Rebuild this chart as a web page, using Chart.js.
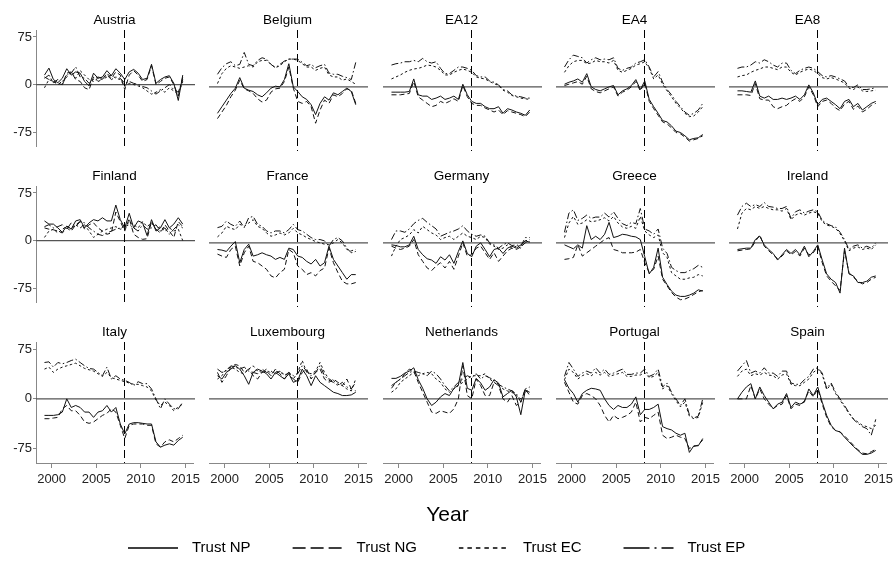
<!DOCTYPE html>
<html>
<head>
<meta charset="utf-8">
<title>Trust in national and European institutions</title>
<script src="https://cdn.jsdelivr.net/npm/chart.js"></script>
<style>
  html, body { margin: 0; padding: 0; background: #ffffff; }
  #fig { position: relative; width: 895px; height: 570px; overflow: hidden; background: #ffffff; }
  #fig canvas { position: absolute; }
</style>
</head>
<body>
<div id="fig"></div>
<script>
// ---------------- data ----------------
const YEARS = [1999.2,1999.7,2000.2,2000.7,2001.2,2001.7,2002.2,2002.7,2003.2,2003.7,
               2004.2,2004.7,2005.2,2005.7,2006.2,2006.7,2007.2,2007.7,2008.2,2008.7,
               2009.2,2009.7,2010.2,2010.7,2011.2,2011.7,2012.2,2012.7,2013.2,2013.7,
               2014.2,2014.7];
const SERIES_LABELS = ['Trust NP', 'Trust NG', 'Trust EC', 'Trust EP'];
const PANEL_NAMES = ['Austria','Belgium','EA12','EA4','EA8',
                     'Finland','France','Germany','Greece','Ireland',
                     'Italy','Luxembourg','Netherlands','Portugal','Spain'];
const X_TICKS = [2000, 2005, 2010, 2015];
const Y_TICKS = [-75, 0, 75];
const X_MIN = 1998.25, X_MAX = 2015.85;
const Y_MIN = -97, Y_MAX = 86;
const CRISIS_YEAR = 2008.17;

const AUSTRIA_NP = [15,26,8,3,10,25,15,20,18,5,-2,18,10,12,22,14,25,18,8,20,24,18,8,10,32,2,8,12,14,2,-25,15];
const AUSTRIA_NG = [12,8,5,2,0,18,20,8,5,-5,-8,12,5,8,18,10,20,15,-8,15,22,15,5,8,30,0,5,10,12,0,-18,12];
const AUSTRIA_EC = [-5,8,5,0,5,12,20,10,22,15,8,5,10,8,12,15,10,8,-3,2,0,-2,-5,-10,-15,-12,-8,-12,-5,-10,-15,5];
const AUSTRIA_EP = [10,15,3,8,0,15,18,28,12,10,2,8,12,10,15,8,12,10,2,5,2,0,-3,-5,-10,-15,-10,-5,0,-8,-12,8];

const BELGIUM_NP = [-40,-30,-20,-10,-2,14,-2,-5,-7,-12,-15,-9,-2,1,0,11,35,0,-7,-15,-19,-27,-42,-25,-15,-20,-9,-12,-7,-2,-7,-27];
const BELGIUM_NG = [-48,-38,-28,-15,-5,10,-3,-6,-10,-18,-23,-20,-8,-3,-2,8,30,-2,-22,-25,-22,-30,-55,-35,-20,-25,-12,-15,-10,-3,-5,-25];
const BELGIUM_EC = [5,20,28,32,30,28,30,32,30,38,40,40,34,29,32,38,42,42,40,35,30,30,25,28,30,18,15,15,10,12,8,4];
const BELGIUM_EP = [19,29,35,38,32,34,52,34,32,40,44,42,34,29,34,39,42,42,42,37,32,34,29,32,34,21,19,19,16,14,11,37];

const EA12_NP = [-8,-8,-8,-8,-7,12,-12,-14,-14,-19,-17,-14,-19,-17,-14,-19,4,-12,-22,-25,-25,-30,-33,-33,-30,-40,-33,-35,-38,-40,-43,-35];
const EA12_NG = [-12,-12,-12,-11,-10,8,-15,-20,-25,-30,-28,-22,-25,-22,-18,-22,2,-15,-25,-28,-28,-32,-35,-38,-35,-42,-36,-38,-40,-42,-45,-38];
const EA12_EC = [12,15,18,22,25,27,28,30,33,32,30,25,18,18,22,25,27,25,22,15,13,12,8,5,2,-5,-8,-13,-15,-17,-18,-19];
const EA12_EP = [33,35,36,38,38,40,38,43,38,36,38,28,20,20,25,30,30,28,25,17,15,15,9,7,3,-4,-6,-12,-14,-15,-17,-17];

const EA4_NP = [4,7,9,12,7,20,0,-4,-6,-3,0,2,-12,-6,-3,2,11,-4,9,-19,-30,-40,-51,-53,-59,-67,-69,-74,-80,-78,-77,-72];
const EA4_NG = [2,4,6,8,4,16,-3,-7,-9,-6,-3,0,-14,-8,-5,0,8,-6,6,-22,-33,-43,-53,-56,-62,-69,-71,-76,-82,-80,-78,-74];
const EA4_EC = [22,32,38,40,40,35,36,40,38,38,36,40,25,22,25,28,33,35,38,28,12,18,4,-6,-15,-25,-32,-40,-45,-44,-38,-30];
const EA4_EP = [30,41,48,46,44,36,41,44,41,42,41,44,28,25,28,30,36,38,41,30,15,23,7,-4,-12,-22,-30,-38,-43,-40,-35,-25];

const EA8_NP = [-6,-6,-7,-8,9,-14,-17,-14,-19,-19,-17,-19,-17,-14,-19,-12,3,-9,-27,-19,-17,-22,-27,-33,-22,-19,-30,-25,-35,-30,-25,-22];
const EA8_NG = [-12,-12,-12,-13,5,-18,-20,-20,-30,-33,-30,-28,-22,-18,-22,-15,0,-12,-30,-22,-20,-25,-32,-36,-26,-22,-34,-29,-38,-34,-28,-25];
const EA8_EC = [15,17,18,22,25,27,30,30,28,26,30,30,22,18,22,25,27,25,20,14,12,14,12,9,6,-2,-4,0,-6,-7,-6,-5];
const EA8_EP = [28,30,30,33,38,36,41,38,33,30,36,36,25,20,25,28,30,28,23,17,15,17,15,12,9,0,-1,3,-4,-4,-3,-1];

const FINLAND_NP = [31,26,26,20,13,23,18,31,33,20,28,33,31,36,31,31,56,33,20,43,20,31,28,8,33,15,20,33,20,26,36,26];
const FINLAND_NG = [20,18,17,15,12,20,15,25,30,18,25,28,20,15,10,12,45,30,15,35,10,5,2,3,30,18,12,25,15,5,30,22];
const FINLAND_EC = [5,15,18,12,18,22,20,25,20,25,15,5,10,15,18,20,22,18,20,30,25,20,30,22,28,18,22,15,20,15,18,0];
const FINLAND_EP = [22,25,20,22,25,18,28,22,30,28,20,15,10,8,12,15,18,20,22,25,20,15,25,18,20,25,15,20,10,18,25,20];

const FRANCE_NP = [-10,-11,-13,-5,2,-30,-10,-2,-20,-18,-15,-18,-20,-25,-22,-25,-8,-10,-20,-22,-28,-32,-25,-35,-30,-5,-25,-35,-45,-55,-48,-48];
const FRANCE_NG = [-17,-20,-22,-10,-5,-35,-15,-5,-28,-30,-35,-40,-50,-53,-45,-40,-10,-15,-35,-40,-48,-45,-50,-42,-38,-8,-30,-45,-58,-62,-62,-60];
const FRANCE_EC = [9,15,25,22,20,28,25,30,35,25,22,15,10,12,15,12,15,22,15,12,8,5,2,0,-2,-3,0,5,0,-10,-12,-10];
const FRANCE_EP = [23,25,33,28,25,33,23,38,40,28,25,18,15,18,18,15,20,28,20,18,13,8,5,5,3,-5,5,8,3,-8,-15,-13];

const GERMANY_NP = [-3,-4,-6,-6,-3,10,-10,-18,-24,-26,-31,-21,-26,-18,-31,-13,3,-16,-21,-5,0,-10,-21,-10,-8,-16,-8,-5,-8,-3,3,1];
const GERMANY_NG = [-5,-8,-10,-8,-5,5,-18,-28,-38,-42,-35,-30,-38,-28,-40,-20,0,-20,-18,-8,-5,-15,-25,-15,-28,-20,-12,-8,-10,-6,0,2];
const GERMANY_EC = [-20,-5,5,8,12,20,15,25,20,15,12,5,8,10,5,10,15,10,8,5,10,8,-2,-5,-10,-8,-3,-8,-5,-8,3,5];
const GERMANY_EP = [5,18,18,16,21,29,34,37,31,26,21,10,13,16,18,21,26,18,13,10,12,10,0,-3,-8,-3,0,-4,-3,-5,8,8];

const GREECE_NP = [-3,-6,-9,-3,-8,26,5,10,5,13,31,8,10,13,12,10,9,5,-21,-47,-37,-8,-52,-63,-73,-79,-81,-81,-79,-76,-71,-73];
const GREECE_NG = [-25,-24,-22,-3,-20,-15,-10,-5,0,5,8,-10,-12,-15,-15,-15,-14,-10,-30,-45,-40,-20,-55,-65,-75,-82,-86,-85,-82,-78,-74,-72];
const GREECE_EC = [8,30,40,28,30,35,32,33,35,38,33,40,30,24,22,25,22,40,18,12,8,12,-15,-22,-45,-50,-55,-55,-53,-52,-48,-50];
const GREECE_EP = [16,45,50,34,37,42,37,39,39,45,39,47,37,29,26,31,29,52,21,18,13,21,-8,-16,-37,-42,-45,-45,-42,-39,-34,-37];

const IRELAND_NP = [-10,-9,-8,-8,5,10,-3,-10,-16,-26,-18,-10,-16,-10,-18,-5,-21,-13,-3,-26,-47,-55,-60,-76,-8,-47,-50,-60,-60,-58,-52,-50];
const IRELAND_NG = [-12,-11,-10,-9,2,12,-5,-12,-18,-24,-20,-12,-18,-13,-20,-8,-18,-15,-5,-30,-50,-58,-65,-72,-12,-45,-52,-58,-62,-60,-55,-52];
const IRELAND_EC = [21,45,52,50,55,52,55,52,50,50,48,52,35,42,45,42,45,47,45,32,27,25,22,14,3,-12,-8,-6,-10,-8,-10,-3];
const IRELAND_EP = [42,55,60,55,58,55,61,55,54,52,52,55,37,47,50,45,48,50,47,34,29,26,24,16,5,-10,-5,-3,-8,-5,-8,0];

const ITALY_NP = [-25,-25,-25,-24,-20,0,-13,-10,-13,-20,-20,-28,-20,-18,-10,-20,-13,-38,-53,-38,-36,-36,-37,-38,-38,-65,-73,-70,-68,-70,-63,-58];
const ITALY_NG = [-30,-30,-29,-28,-15,-10,-18,-18,-25,-35,-37,-35,-30,-25,-22,-15,-20,-40,-60,-40,-38,-38,-38,-40,-40,-68,-73,-65,-62,-65,-60,-55];
const ITALY_EC = [45,48,40,45,48,50,52,54,50,46,44,42,38,34,40,32,30,28,26,24,22,22,20,18,12,-2,-10,-5,-10,-18,-12,-8];
const ITALY_EP = [55,56,48,55,53,55,58,60,55,50,46,45,40,35,48,30,35,30,28,25,20,26,23,23,15,0,-15,0,-8,-15,-15,-5];

const LUXEMBOURG_NP = [35,30,40,45,50,45,35,22,40,45,42,38,30,40,35,30,38,25,28,45,35,20,35,25,20,15,10,8,5,5,6,10];
const LUXEMBOURG_NG = [40,25,35,48,52,50,40,45,35,30,40,42,35,45,38,30,40,30,25,40,45,30,40,45,30,25,30,25,20,30,15,12];
const LUXEMBOURG_EC = [30,35,45,48,45,40,38,45,50,42,40,45,38,42,40,38,35,30,40,58,40,38,42,55,40,30,28,22,20,15,12,30];
const LUXEMBOURG_EP = [45,40,42,50,48,45,48,42,40,38,45,40,42,38,42,35,40,35,38,50,42,35,40,50,35,28,25,20,25,18,15,25];

const NETHERLANDS_NP = [31,31,34,39,42,47,29,16,0,-10,-5,3,8,5,16,21,55,16,13,31,24,13,18,29,24,3,8,13,3,-24,13,10];
const NETHERLANDS_NG = [16,25,30,38,45,42,25,10,-5,-20,-22,-18,-20,-22,-15,0,50,5,0,30,20,5,5,25,20,0,-5,5,-10,-5,15,5];
const NETHERLANDS_EC = [10,15,25,30,35,40,35,38,40,38,30,25,15,10,15,20,25,30,35,35,35,38,30,25,20,15,12,10,5,0,10,15];
const NETHERLANDS_EP = [20,25,30,35,40,42,40,38,35,42,38,30,20,12,18,25,30,35,32,38,30,35,32,28,22,18,15,12,8,-5,15,18];

const PORTUGAL_NP = [29,16,8,-5,8,13,16,15,13,0,-10,-16,-10,-13,-13,-8,3,-24,-16,-16,-13,-8,-42,-45,-47,-52,-55,-52,-81,-71,-71,-60];
const PORTUGAL_NG = [25,10,-5,-8,5,8,5,0,-10,-25,-35,-25,-30,-28,-25,-20,-5,-35,-28,-30,-25,-20,-55,-60,-58,-55,-58,-60,-75,-72,-70,-62];
const PORTUGAL_EC = [29,45,40,30,35,38,35,40,36,40,34,36,38,40,34,34,36,36,40,32,34,40,15,20,8,-3,-12,-5,-26,-30,-28,-5];
const PORTUGAL_EP = [34,55,45,34,39,42,39,47,39,45,37,39,42,45,37,37,39,39,45,34,37,45,18,24,10,0,-10,0,-24,-29,-26,0];

const SPAIN_NP = [0,10,18,23,0,18,5,-5,-15,-8,-5,8,-13,-5,-8,-5,15,5,18,-5,-25,-40,-48,-50,-58,-65,-72,-78,-84,-84,-82,-78];
const SPAIN_NG = [0,0,0,20,0,15,0,-8,-15,-10,-8,5,-15,-8,-10,-3,12,3,15,-8,-28,-42,-48,-50,-56,-63,-70,-77,-82,-83,-80,-76];
const SPAIN_EC = [34,42,45,35,38,36,40,36,35,30,36,38,22,20,20,25,30,40,45,37,14,22,8,-2,-12,-22,-30,-35,-40,-42,-45,-40];
const SPAIN_EP = [42,50,58,39,42,39,47,39,39,34,42,42,24,22,22,29,34,45,47,39,16,24,10,0,-10,-21,-31,-37,-42,-45,-55,-31];

const PANEL_SERIES = {
  'Austria': [AUSTRIA_NP, AUSTRIA_NG, AUSTRIA_EC, AUSTRIA_EP],
  'Belgium': [BELGIUM_NP, BELGIUM_NG, BELGIUM_EC, BELGIUM_EP],
  'EA12': [EA12_NP, EA12_NG, EA12_EC, EA12_EP],
  'EA4': [EA4_NP, EA4_NG, EA4_EC, EA4_EP],
  'EA8': [EA8_NP, EA8_NG, EA8_EC, EA8_EP],
  'Finland': [FINLAND_NP, FINLAND_NG, FINLAND_EC, FINLAND_EP],
  'France': [FRANCE_NP, FRANCE_NG, FRANCE_EC, FRANCE_EP],
  'Germany': [GERMANY_NP, GERMANY_NG, GERMANY_EC, GERMANY_EP],
  'Greece': [GREECE_NP, GREECE_NG, GREECE_EC, GREECE_EP],
  'Ireland': [IRELAND_NP, IRELAND_NG, IRELAND_EC, IRELAND_EP],
  'Italy': [ITALY_NP, ITALY_NG, ITALY_EC, ITALY_EP],
  'Luxembourg': [LUXEMBOURG_NP, LUXEMBOURG_NG, LUXEMBOURG_EC, LUXEMBOURG_EP],
  'Netherlands': [NETHERLANDS_NP, NETHERLANDS_NG, NETHERLANDS_EC, NETHERLANDS_EP],
  'Portugal': [PORTUGAL_NP, PORTUGAL_NG, PORTUGAL_EC, PORTUGAL_EP],
  'Spain': [SPAIN_NP, SPAIN_NG, SPAIN_EC, SPAIN_EP]
};

// ---------------- styles / layout ----------------
const FONT = "'Liberation Sans', Arial, Helvetica, sans-serif";
const PANEL_DASH = [[], [5, 3], [2.5, 2.5], [7, 2.5, 1.5, 2.5]];
const LEGEND_DASH = [[], [13, 5], [4.5, 4], [26, 5, 2, 5]];
const COL_LEFT = [36, 209, 383, 556, 729];
const ROW_TOP = [30, 186, 342];
const PLOT_W = 157, PLOT_H = 121;
const PAD_L = 36, PAD_R = 12, TITLE_H = 30, XAXIS_H = 40;

Chart.defaults.font.family = FONT;

const refLines = {
  id: 'refLines',
  beforeDatasetsDraw(chart) {
    const { ctx, chartArea: a, scales: { x, y } } = chart;
    ctx.save();
    const y0 = y.getPixelForValue(0);
    ctx.strokeStyle = '#555';
    ctx.lineWidth = 1.4;
    ctx.beginPath(); ctx.moveTo(a.left, y0); ctx.lineTo(a.right + 2, y0); ctx.stroke();
    const xc = Math.round(x.getPixelForValue(CRISIS_YEAR)) + 0.5;
    ctx.strokeStyle = '#000';
    ctx.lineWidth = 1;
    ctx.setLineDash([8, 4]);
    ctx.beginPath(); ctx.moveTo(xc, a.top); ctx.lineTo(xc, a.bottom); ctx.stroke();
    ctx.restore();
  }
};

const fig = document.getElementById('fig');

function makeCanvas(left, top, w, h) {
  const c = document.createElement('canvas');
  c.width = w; c.height = h;
  c.style.left = left + 'px'; c.style.top = top + 'px';
  c.style.width = w + 'px'; c.style.height = h + 'px';
  fig.appendChild(c);
  return c;
}

PANEL_NAMES.forEach((name, idx) => {
  const r = Math.floor(idx / 5), c = idx % 5;
  const bottomRow = r === 2, firstCol = c === 0;
  const w = PAD_L + PLOT_W + PAD_R;
  const h = TITLE_H + PLOT_H + (bottomRow ? XAXIS_H : 4);
  const cv = makeCanvas(COL_LEFT[c] - PAD_L, ROW_TOP[r] - TITLE_H, w, h);
  const series = PANEL_SERIES[name];
  new Chart(cv.getContext('2d'), {
    type: 'line',
    data: {
      datasets: SERIES_LABELS.map((lab, k) => ({
        label: lab,
        data: YEARS.map((yr, i) => ({ x: yr, y: series[k][i] })),
        borderColor: '#111',
        borderWidth: 1,
        borderDash: PANEL_DASH[k],
        borderJoinStyle: 'round',
        pointRadius: 0,
        tension: 0,
        fill: false
      }))
    },
    options: {
      responsive: false,
      animation: false,
      devicePixelRatio: 1,
      events: [],
      layout: { padding: { left: firstCol ? 0 : PAD_L, right: PAD_R, top: 0, bottom: bottomRow ? 0 : 4 } },
      plugins: {
        legend: { display: false },
        tooltip: { enabled: false },
        title: {
          display: true, text: name, fullSize: false, color: '#000',
          font: { family: FONT, size: 13.5, weight: 'normal', lineHeight: '16px' },
          padding: { top: 12, bottom: 2 }
        }
      },
      scales: {
        x: {
          type: 'linear', min: X_MIN, max: X_MAX, display: bottomRow,
          afterBuildTicks: ax => { ax.ticks = X_TICKS.map(v => ({ value: v })); },
          afterFit: ax => { ax.height = bottomRow ? XAXIS_H : 0; },
          grid: { display: true, drawOnChartArea: false, drawTicks: true, tickLength: 5, color: '#888', lineWidth: 1 },
          border: { display: true, color: '#888', width: 1 },
          ticks: { font: { family: FONT, size: 13 }, color: '#222', padding: 4, maxRotation: 0, autoSkip: false,
                   callback: v => String(v) }
        },
        y: {
          type: 'linear', min: Y_MIN, max: Y_MAX, display: firstCol,
          afterBuildTicks: ax => { ax.ticks = Y_TICKS.map(v => ({ value: v })); },
          afterFit: ax => { ax.width = firstCol ? PAD_L : 0; },
          grid: { display: true, drawOnChartArea: false, drawTicks: true, tickLength: 3, color: '#888', lineWidth: 1 },
          border: { display: true, color: '#888', width: 1 },
          ticks: { font: { family: FONT, size: 13 }, color: '#222', padding: 1, autoSkip: false,
                   callback: v => String(v) }
        }
      }
    },
    plugins: [refLines]
  });
});

// ---------------- axis title + legend ----------------
const lineLegend = {
  id: 'lineLegend',
  afterDraw(chart) {
    const ctx = chart.ctx;
    ctx.save();
    ctx.font = '15px ' + FONT;
    ctx.fillStyle = '#000';
    ctx.textBaseline = 'middle';
    let x = 128; const y = 53;
    chart.data.datasets.forEach(ds => {
      ctx.strokeStyle = '#000';
      ctx.lineWidth = 1.5;
      ctx.setLineDash(ds.borderDash || []);
      ctx.beginPath(); ctx.moveTo(x, y); ctx.lineTo(x + 50, y); ctx.stroke();
      ctx.setLineDash([]);
      ctx.fillText(ds.label, x + 64, y);
      x += 64 + ctx.measureText(ds.label).width + 42;
    });
    ctx.restore();
  }
};

const lc = makeCanvas(0, 495, 895, 75);
new Chart(lc.getContext('2d'), {
  type: 'line',
  data: {
    datasets: SERIES_LABELS.map((lab, k) => ({ label: lab, data: [], borderColor: '#000', borderDash: LEGEND_DASH[k] }))
  },
  options: {
    responsive: false, animation: false, devicePixelRatio: 1, events: [],
    layout: { padding: 0 },
    scales: { x: { display: false }, y: { display: false } },
    plugins: {
      legend: { display: false },
      tooltip: { enabled: false },
      title: { display: true, text: 'Year', color: '#000',
               font: { family: FONT, size: 21, weight: 'normal', lineHeight: '24px' },
               padding: { top: 8, bottom: 0 } }
    }
  },
  plugins: [lineLegend]
});
</script>
</body>
</html>
